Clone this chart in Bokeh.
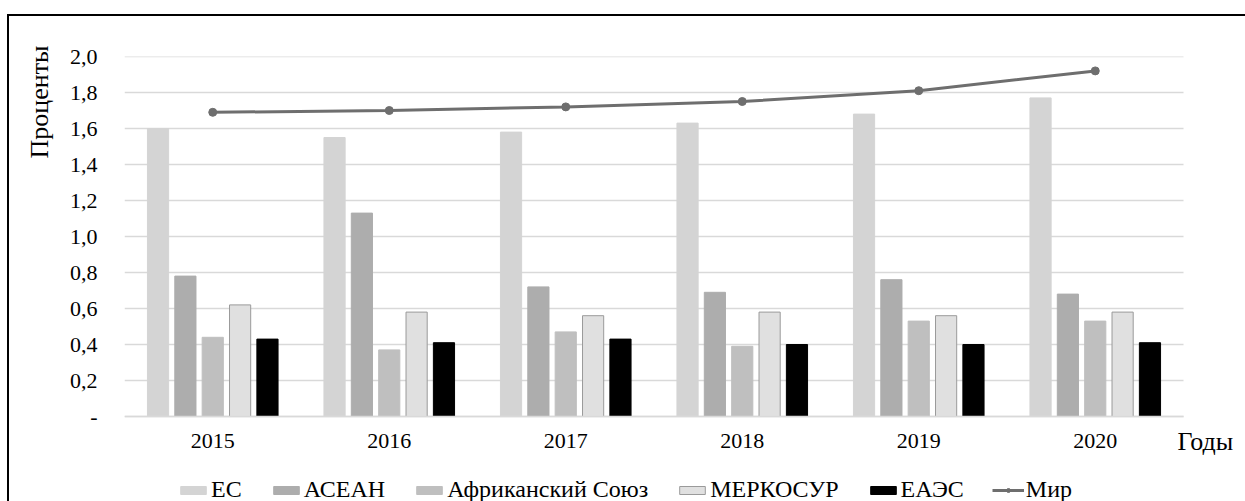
import math
from bokeh.plotting import figure
from bokeh.models import (Range1d, FixedTicker, CustomJSTickFormatter,
                          Legend, LegendItem, Title, Label, ColumnDataSource)
from bokeh.transform import dodge
from bokeh.embed import file_html
from bokeh.resources import INLINE

years = ["2015", "2016", "2017", "2018", "2019", "2020"]
es = [1.60, 1.55, 1.58, 1.63, 1.68, 1.77]
asean = [0.78, 1.13, 0.72, 0.69, 0.76, 0.68]
au = [0.44, 0.37, 0.47, 0.39, 0.53, 0.53]
mercosur = [0.62, 0.58, 0.56, 0.58, 0.56, 0.58]
eaes = [0.43, 0.41, 0.43, 0.40, 0.40, 0.41]
world = [1.69, 1.70, 1.72, 1.75, 1.81, 1.92]

series_names = ["ЕС", "АСЕАН", "Африканский Союз", "МЕРКОСУР", "ЕАЭС", "Мир"]
y_ticks = [0.0, 0.2, 0.4, 0.6, 0.8, 1.0, 1.2, 1.4, 1.6, 1.8, 2.0]

FONT = "Liberation Serif"
n = len(years)
xc = [i + 0.5 for i in range(n)]          # category centres
X_END = n + 64 / 176.5                    # room on the right for "Годы"

src = ColumnDataSource(dict(xc=xc, es=es, asean=asean, au=au,
                            mercosur=mercosur, eaes=eaes, world=world))

p = figure(x_range=Range1d(0, X_END), y_range=Range1d(-0.5, 2.0),
           frame_width=1123, frame_height=450,
           output_backend="svg", toolbar_location=None,
           min_border_left=113, min_border_right=0, min_border_top=40,
           min_border_bottom=0)
p.styles = {"margin-top": "14px", "margin-left": "7px",
            "border-top": "2px solid black", "border-left": "2px solid black"}
p.outline_line_color = None
p.background_fill_color = "white"
p.border_fill_color = "white"

# horizontal grid lines limited to the category area
grid_src = ColumnDataSource(dict(y=y_ticks, x0=[0] * len(y_ticks), x1=[n] * len(y_ticks)))
p.segment(x0="x0", y0="y", x1="x1", y1="y", source=grid_src,
          line_color="#d9d9d9", line_width=1.5, level="underlay")

W = 0.12
specs = [
    ("es", -0.31, "#d4d4d4", None),
    ("asean", -0.155, "#adadad", None),
    ("au", 0.0, "#bfbfbf", None),
    ("mercosur", 0.155, "#e0e0e0", "#9a9a9a"),
    ("eaes", 0.31, "#000000", None),
]
renderers = []
for col, off, color, lc in specs:
    r = p.vbar(x=dodge("xc", off), top=col, width=W,
               source=src, fill_color=color,
               line_color=lc if lc else color, line_width=1)
    renderers.append(r)

lr = p.line(x="xc", y="world", source=src, line_color="#6e6e6e", line_width=3)
sr = p.scatter(x="xc", y="world", source=src, size=8, fill_color="#6e6e6e",
               line_color="#6e6e6e")

# axes
p.yaxis.ticker = FixedTicker(ticks=y_ticks)
p.yaxis.formatter = CustomJSTickFormatter(
    code="return tick < 0.01 ? '-' : tick.toFixed(1).replace('.', ',');")
p.xaxis.ticker = FixedTicker(ticks=xc)
p.xaxis.formatter = CustomJSTickFormatter(
    args=dict(labels=years),
    code="const i = Math.round(tick - 0.5); return (i >= 0 && i < labels.length) ? labels[i] : '';")
for ax in (p.xaxis[0], p.yaxis[0]):
    ax.major_tick_line_color = None
    ax.minor_tick_line_color = None
    ax.major_label_text_font = FONT
    ax.major_label_text_font_size = "22px"
    ax.major_label_text_color = "black"
p.yaxis.axis_line_color = None
p.yaxis.major_label_standoff = 21
p.xaxis.fixed_location = 0
p.xaxis.bounds = (0, n)
p.xaxis.axis_line_color = "#d9d9d9"
p.xaxis.axis_line_width = 1.5
p.xaxis.major_label_standoff = 11

p.xgrid.grid_line_color = None
p.ygrid.grid_line_color = None

# axis titles
p.add_layout(Title(text="Проценты", align="right", offset=-11, standoff=26,
                   text_font=FONT, text_font_size="26px", text_font_style="normal",
                   text_color="black"), "left")
p.add_layout(Label(x=5.966, y=-0.139, text="Годы",
                   text_font=FONT, text_font_size="26px",
                   text_align="left", text_baseline="middle", text_color="black"))

items = [LegendItem(label=series_names[i], renderers=[renderers[i]]) for i in range(5)]
items.append(LegendItem(label=series_names[5], renderers=[lr, sr]))
legend = Legend(items=items, orientation="horizontal", location=(53, 3),
                label_text_font=FONT, label_text_font_size="24px",
                label_text_color="black", glyph_width=32, glyph_height=10,
                spacing=28, label_standoff=2, padding=0, margin=0,
                border_line_color=None, background_fill_alpha=0)
p.add_layout(legend, "center")

open("out.html", "w").write(file_html(p, INLINE))
